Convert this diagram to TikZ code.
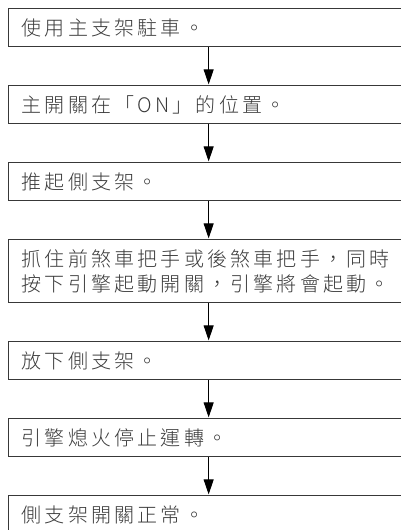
\documentclass[tikz,border=0pt]{standalone}
\usepackage{fontspec}
\setmainfont{Noto Sans CJK TC Light}
\usetikzlibrary{arrows.meta}
\definecolor{boxline}{HTML}{383838}
\definecolor{txt}{HTML}{3A3A3A}
\newlength\cjkw
\setlength\cjkw{23.2pt}
\def\cjkline#1{\cjklineA#1\relax}
\def\cjklineA#1{\ifx\relax#1\else\makebox[\cjkw][l]{#1}\expandafter\cjklineA\fi}
\newcommand\latn[1]{\makebox[17.5pt][l]{#1}}
\tikzset{
  stepbox/.style={draw=boxline, line width=1.3pt, rectangle, anchor=north west,
    minimum width=400pt, inner xsep=13pt, inner ysep=0pt, text width=374pt,
    align=left, text=txt, font=\fontsize{20}{24.5}\selectfont},
  arr/.style={line width=0.9pt, black, -{Triangle[width=10pt,length=15pt]}, shorten >=0.6pt}
}
\begin{document}
\begin{tikzpicture}[x=1pt,y=-1pt]
\useasboundingbox (0,0) rectangle (401,530);
\clip (0,0) rectangle (401,530);
\node[stepbox, minimum height=38pt] (b1) at (8,8) {\cjkline{使用主支架駐車。}};
\node[stepbox, minimum height=38pt] (b2) at (8,85) {\cjkline{主開關在「}\latn{O}\latn{N}\cjkline{」的位置。}};
\node[stepbox, minimum height=38pt] (b3) at (8,162) {\cjkline{推起側支架。}};
\node[stepbox, minimum height=63pt] (b4) at (8,239) {\cjkline{抓住前煞車把手或後煞車把手，同時}\\\cjkline{按下引擎起動開關，引擎將會起動。}};
\node[stepbox, minimum height=38pt] (b5) at (8,341) {\cjkline{放下側支架。}};
\node[stepbox, minimum height=38pt] (b6) at (8,418) {\cjkline{引擎熄火停止運轉。}};
\node[stepbox, minimum height=38pt] (b7) at (8,495) {\cjkline{側支架開關正常。}};
\draw[arr] (b1.south) -- (b2.north);
\draw[arr] (b2.south) -- (b3.north);
\draw[arr] (b3.south) -- (b4.north);
\draw[arr] (b4.south) -- (b5.north);
\draw[arr] (b5.south) -- (b6.north);
\draw[arr] (b6.south) -- (b7.north);
\end{tikzpicture}
\end{document}
